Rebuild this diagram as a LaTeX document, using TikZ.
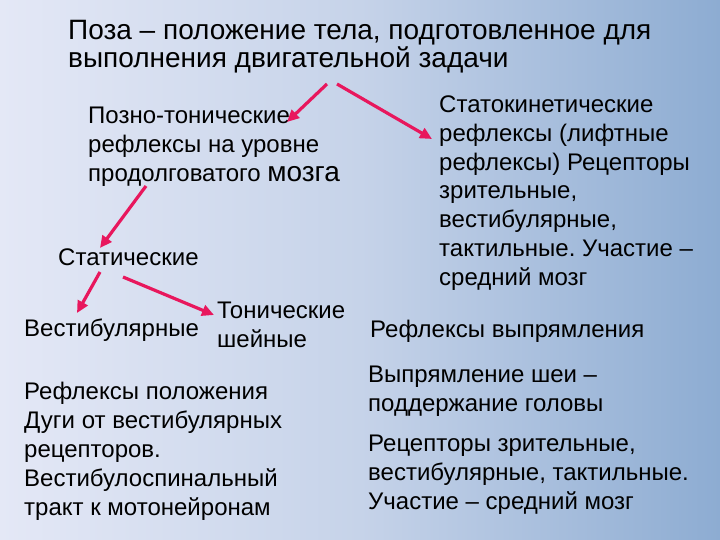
\documentclass[tikz,border=0pt]{standalone}
\usepackage{fontspec}
\setmainfont{Liberation Sans}
\usetikzlibrary{arrows.meta}
\frenchspacing
\definecolor{bgleft}{HTML}{E4E8F6}
\definecolor{bgmid}{HTML}{C6D3E9}
\definecolor{bgright}{HTML}{8DACD2}
\definecolor{arr}{HTML}{E8175D}
\tikzset{
  txt/.style={inner sep=0pt, anchor=base west, align=left, font=\fontsize{24}{29}\selectfont},
  rtxt/.style={inner sep=0pt, anchor=base west, align=left, font=\fontsize{24}{28.7}\selectfont},
  ttl/.style={inner sep=0pt, anchor=base west, align=left, font=\fontsize{28}{28}\selectfont},
  arrow/.style={draw=arr, line width=3.2pt, -{Triangle[length=12pt,width=11pt]}}
}
\begin{document}
\begin{tikzpicture}[x=1pt,y=-1pt]
\useasboundingbox (0,0) rectangle (720,540);
\shade[left color=bgleft, right color=bgright, middle color=bgmid] (0,0) rectangle (720,540);
% anchors are at the baseline of the last line
\node[ttl] (title) at (68,68) {Поза – положение тела, подготовленное для\\выполнения двигательной задачи};
\node[txt] (pozno) at (88,182) {Позно-тонические\\рефлексы на уровне\\продолговатого {\fontsize{28}{29}\selectfont мозга}};
\node[rtxt] (stato) at (439,285) {Статокинетические\\рефлексы (лифтные\\рефлексы) Рецепторы\\зрительные,\\вестибулярные,\\тактильные. Участие –\\средний мозг};
\node[txt] (stat) at (58,265) {Статические};
\node[txt] (vest) at (24,336) {Вестибулярные};
\node[txt] (ton) at (217,347) {Тонические\\шейные};
\node[txt] (vypr) at (370,337) {Рефлексы выпрямления};
\node[txt] (sheya) at (368,411) {Выпрямление шеи –\\поддержание головы};
\node[txt] (recep) at (368,509) {Рецепторы зрительные,\\вестибулярные, тактильные.\\Участие – средний мозг};
\node[txt] (polozh) at (24,515) {Рефлексы положения\\Дуги от вестибулярных\\рецепторов.\\Вестибулоспинальный\\тракт к мотонейронам};
\coordinate (t1) at (327,84);
\coordinate (t2) at (337,84);
\coordinate (p1) at (146,186);
\coordinate (s1) at (100,272);
\coordinate (s2) at (123,277);
\coordinate (e1) at (287,122);
\coordinate (e2) at (432,139);
\coordinate (e3) at (100,248);
\coordinate (e4) at (77,313);
\coordinate (e5) at (214,315);
\draw[arrow] (t1) -- (e1);
\draw[arrow] (t2) -- (e2);
\draw[arrow] (p1) -- (e3);
\draw[arrow] (s1) -- (e4);
\draw[arrow] (s2) -- (e5);
\end{tikzpicture}
\end{document}
